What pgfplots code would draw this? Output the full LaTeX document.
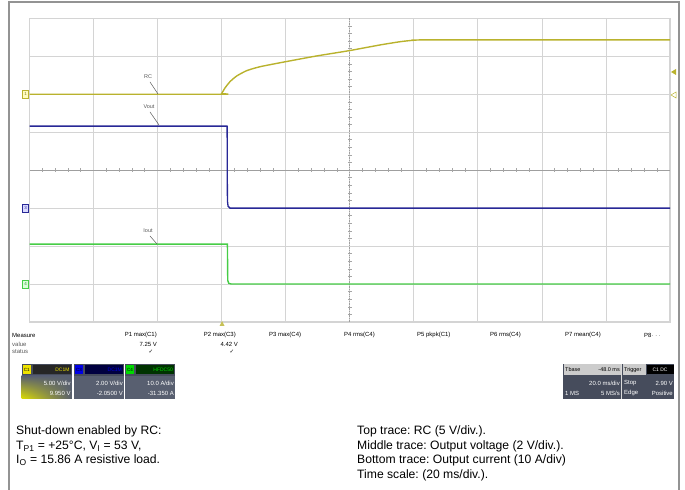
\documentclass[border=0pt]{standalone}
\usepackage{pgfplots}
\pgfplotsset{compat=1.18}
\usetikzlibrary{shadings}
\usepackage{fontspec}
\setmainfont{Liberation Sans}
\newfontfamily\dejavu{DejaVu Sans}
\frenchspacing
\definecolor{ytrace}{RGB}{185,178,45}
\definecolor{btrace}{RGB}{40,40,150}
\definecolor{gtrace}{RGB}{70,205,70}
\definecolor{gridc}{RGB}{212,212,212}
\definecolor{slate}{RGB}{88,95,112}
\definecolor{darkslate}{RGB}{70,76,92}
\definecolor{lbl}{RGB}{90,90,90}
\newcommand{\lbltiny}{\fontsize{5.5}{6}\selectfont}
\newcommand{\meas}{\fontsize{6}{7}\selectfont}
\begin{document}
\begin{tikzpicture}[x=1bp,y=1bp]
\path[use as bounding box] (0,0) rectangle (685,490);
\coordinate (axpos) at (29.5,168);
\draw[gray!85, line width=1.2bp] (9,0) -- (9,488) -- (679,488) -- (679,0);
\begin{axis}[at={(axpos)}, anchor=south west, scale only axis,
  width=640.5bp, height=303.7bp,
  xmin=0, xmax=10, ymin=0, ymax=8,
  xtick={0,...,10}, ytick={0,...,8},
  xticklabels={}, yticklabels={},
  major tick length=0pt,
  grid=major, grid style={gridc, line width=0.8bp},
  axis line style={gridc, line width=1.3bp},
  clip=false]
% centre lines
\draw[gray!75, line width=0.7bp] (axis cs:0,4) -- (axis cs:10,4);
\draw[gray!75, line width=0.7bp, densely dotted] (axis cs:5,0) -- (axis cs:5,8);
\pgfplotsinvokeforeach{0.2,0.4,0.6,0.8,1.2,1.4,1.6,1.8,2.2,2.4,2.6,2.8,3.2,3.4,3.6,3.8,4.2,4.4,4.6,4.8,5.2,5.4,5.6,5.8,6.2,6.4,6.6,6.8,7.2,7.4,7.6,7.8,8.2,8.4,8.6,8.8,9.2,9.4,9.6,9.8}{
  \draw[gray!70, line width=0.6bp] (axis cs:#1,4) ++(0,-1.8bp) -- ++(0,3.6bp);
}
\pgfplotsinvokeforeach{0.2,0.4,0.6,0.8,1.2,1.4,1.6,1.8,2.2,2.4,2.6,2.8,3.2,3.4,3.6,3.8,4.2,4.4,4.6,4.8,5.2,5.4,5.6,5.8,6.2,6.4,6.6,6.8,7.2,7.4,7.6,7.8}{
  \draw[gray!70, line width=0.6bp] (axis cs:5,#1) ++(-1.8bp,0) -- ++(3.6bp,0);
}
% traces
\addplot[ytrace, line width=1.4bp, smooth, tension=0.35] coordinates {
 (0,6.0) (2.97,6.0) (3.0,6.02) (3.05,6.16) (3.13,6.33) (3.235,6.48) (3.39,6.62)
 (3.60,6.725) (4.00,6.857) (4.48,7.007) (4.99,7.147) (5.47,7.297) (5.79,7.384)
 (5.99,7.42) (6.2,7.43) (10,7.43)};
\addplot[btrace, line width=1.3bp] coordinates {
 (0,5.16) (3.085,5.16) (3.09,3.2) (3.10,3.05) (3.13,3.0) (10,3.0)};
\addplot[gtrace, line width=1.4bp] coordinates {
 (0,2.05) (3.09,2.05) (3.095,1.1) (3.11,1.02) (3.15,1.0) (10,1.0)};
\end{axis}
% trace labels
\node[font=\lbltiny, text=lbl, inner sep=0] at (148,413) {RC};
\draw[lbl, line width=0.5bp] (150,408) -- (158,396);
\node[font=\lbltiny, text=lbl, inner sep=0] at (149,383) {Vout};
\draw[lbl, line width=0.5bp] (150,378) -- (159,365);
\node[font=\lbltiny, text=lbl, inner sep=0] at (148,259) {Iout};
\draw[lbl, line width=0.5bp] (150,254) -- (157,246);
% ground markers
\draw[ytrace, fill=yellow!25, line width=0.5bp] (22.5,392) rectangle (28.5,400);
\node[font=\fontsize{4.5}{5}\selectfont, text=ytrace!70!black, inner sep=0] at (25.5,396) {1};
\draw[btrace, fill=blue!15, line width=0.5bp] (22.5,278) rectangle (28.5,286);
\node[font=\fontsize{4.5}{5}\selectfont, text=btrace, inner sep=0] at (25.5,282) {3};
\draw[gtrace, fill=green!15, line width=0.5bp] (22.5,202) rectangle (28.5,210);
\node[font=\fontsize{4.5}{5}\selectfont, text=gtrace!70!black, inner sep=0] at (25.5,206) {4};
\fill[ytrace] (671,418) -- (676,421) -- (676,415) -- cycle;
\draw[ytrace, line width=0.5bp] (671,395) -- (676,398) -- (676,392) -- cycle;
\fill[ytrace!80] (222,169) -- (219.5,164) -- (224.5,164) -- cycle;
% measure table
\node[font=\meas, anchor=west, inner sep=0] at (12,155) {Measure};
\node[font=\meas, anchor=west, inner sep=0, text=lbl] at (12,146) {value};
\node[font=\meas, anchor=west, inner sep=0, text=lbl] at (12,138) {status};
\node[font=\meas, anchor=east, inner sep=0] at (157,155) {P1 max(C1)};
\node[font=\meas, anchor=east, inner sep=0] at (157,146) {7.25 V};
\node[font=\dejavu\fontsize{5.5}{6}\selectfont, inner sep=0] at (151,138) {✓};
\node[font=\meas, anchor=east, inner sep=0] at (236,155) {P2 max(C3)};
\node[font=\meas, anchor=east, inner sep=0] at (238,146) {4.42 V};
\node[font=\dejavu\fontsize{5.5}{6}\selectfont, inner sep=0] at (232,138) {✓};
\node[font=\meas, anchor=west, inner sep=0] at (269,155) {P3 max(C4)};
\node[font=\meas, anchor=west, inner sep=0] at (344,155) {P4 rms(C4)};
\node[font=\meas, anchor=west, inner sep=0] at (417,155) {P5 pkpk(C1)};
\node[font=\meas, anchor=west, inner sep=0] at (490,155) {P6 rms(C4)};
\node[font=\meas, anchor=west, inner sep=0] at (565,155) {P7 mean(C4)};
\node[font=\meas, anchor=west, inner sep=0] at (644,155) {P8$\cdots$};
% channel boxes
\newcommand{\chbox}[7]{%
  \fill[slate] (#1,91) rectangle (#1+50,114);
  \fill[darkslate] (#1,114) rectangle (#1+50,126);
  \fill[#2] (#1+1,115.5) rectangle (#1+9,124.5);
  \node[font=\fontsize{4.5}{5}\selectfont, inner sep=0] at (#1+5,120) {#3};
  \fill[#7] (#1+11,115.5) rectangle (#1+49,124.5);
  \node[font=\fontsize{5}{6}\selectfont, text=#2, anchor=east, inner sep=0] at (#1+48,120) {#4};
  \node[font=\fontsize{6}{7}\selectfont, text=white, anchor=east, inner sep=0] at (#1+49,107) {#5};
  \node[font=\fontsize{6}{7}\selectfont, text=white, anchor=east, inner sep=0] at (#1+49,97) {#6};
}
\chbox{21.7}{yellow!85!olive}{C1}{DC1M}{5.00 V/div}{9.950 V}{black!85}
\shade[upper left=slate, upper right=slate, lower left=yellow!75!olive, lower right=slate] (21.7,91) rectangle (71.7,114);
\node[font=\fontsize{6}{7}\selectfont, text=white, anchor=east, inner sep=0] at (70.7,107) {5.00 V/div};
\node[font=\fontsize{6}{7}\selectfont, text=white, anchor=east, inner sep=0] at (70.7,97) {9.950 V};
\chbox{74}{blue!90!black}{C3}{DC1M}{2.00 V/div}{-2.0500 V}{blue!25!black}
\chbox{125}{green!85!black}{C4}{HFDC50}{10.0 A/div}{-31.350 A}{green!20!black}
% timebase box
\fill[darkslate] (563,91) rectangle (674,126);
\fill[gray!40] (563.5,115) rectangle (621,125.5);
\fill[gray!40] (622.5,115) rectangle (646,125.5);
\fill[black] (647,115.5) rectangle (673.5,125);
\draw[gray!30, line width=1bp] (621.7,91) -- (621.7,126);
\node[font=\fontsize{5.5}{6}\selectfont, anchor=west, inner sep=0] at (565,120) {Tbase};
\node[font=\fontsize{5.5}{6}\selectfont, anchor=east, inner sep=0] at (620,120) {-48.0 ms};
\node[font=\fontsize{5.5}{6}\selectfont, anchor=west, inner sep=0] at (624,120) {Trigger};
\node[font=\fontsize{5}{6}\selectfont, text=white, inner sep=0] at (660,120) {C1 DC};
\node[font=\fontsize{6}{7}\selectfont, text=white, anchor=east, inner sep=0] at (620,107) {20.0 ms/div};
\node[font=\fontsize{6}{7}\selectfont, text=white, anchor=west, inner sep=0] at (565,97) {1 MS};
\node[font=\fontsize{6}{7}\selectfont, text=white, anchor=east, inner sep=0] at (620,97) {5 MS/s};
\node[font=\fontsize{6}{7}\selectfont, text=white, anchor=west, inner sep=0] at (624,107) {Stop};
\node[font=\fontsize{6}{7}\selectfont, text=white, anchor=east, inner sep=0] at (673,107) {2.90 V};
\node[font=\fontsize{6}{7}\selectfont, text=white, anchor=west, inner sep=0] at (624,97) {Edge};
\node[font=\fontsize{6}{7}\selectfont, text=white, anchor=east, inner sep=0] at (673,97) {Positive};
% caption
\begin{scope}[every node/.style={font=\fontsize{12.2}{14}\selectfont, anchor=base west, inner sep=0}]
\node at (16,55) {Shut-down enabled by RC:};
\node at (16,40.5) {T\textsubscript{P1} = +25°C, V\textsubscript{I} = 53 V,};
\node at (16,26) {I\textsubscript{O} = 15.86 A resistive load.};
\node at (357,55) {Top trace: RC (5 V/div.).};
\node at (357,40.5) {Middle trace: Output voltage (2 V/div.).};
\node at (357,26) {Bottom trace: Output current (10 A/div)};
\node at (357,11.5) {Time scale: (20 ms/div.).};
\end{scope}
\end{tikzpicture}
\end{document}
